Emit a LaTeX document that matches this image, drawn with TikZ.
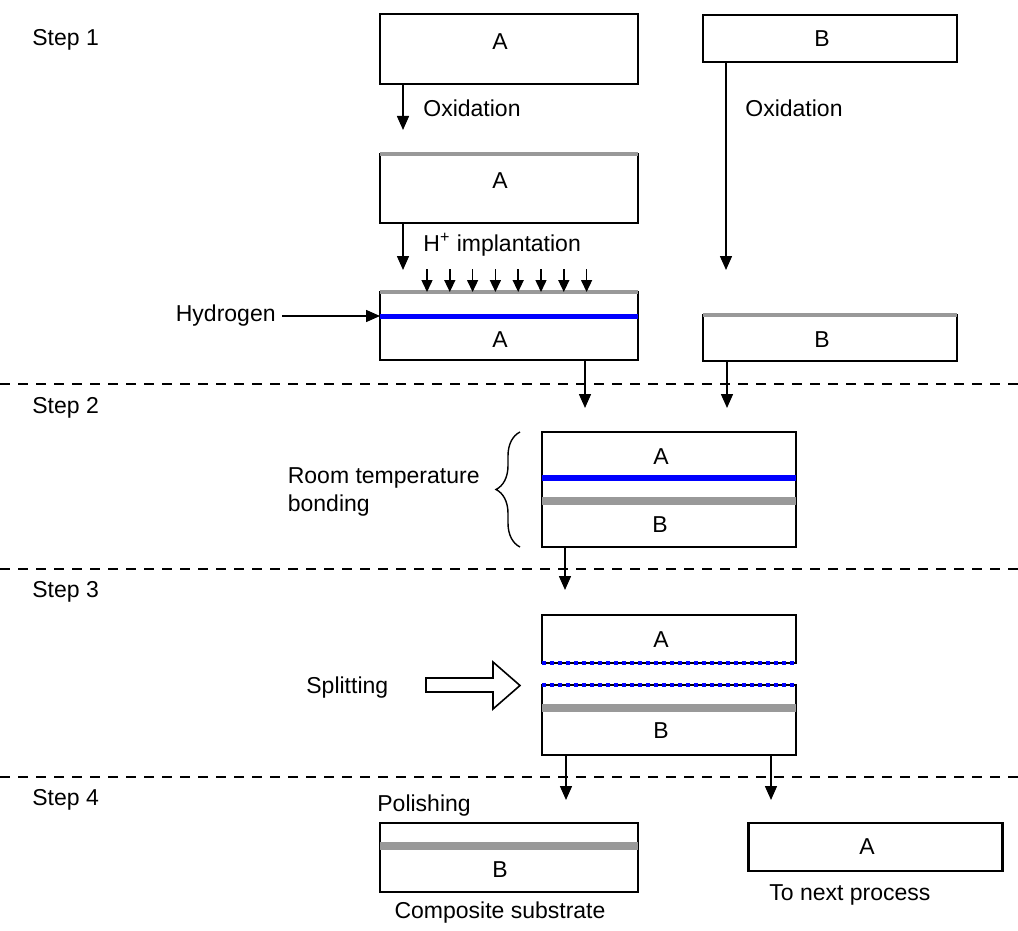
\documentclass[tikz,border=0pt]{standalone}
\usepackage{fontspec}
\setmainfont{Liberation Sans}
\usetikzlibrary{arrows.meta, decorations.pathreplacing}

\definecolor{oxgray}{RGB}{153,153,153}

\begin{document}
\begin{tikzpicture}[
    x=0.5pt, y=-0.5pt,
    font=\fontsize{11.5}{14}\selectfont,
    waferA/.style={rectangle, draw=black, line width=1.3pt, minimum width=129pt, inner sep=0pt, outer sep=0pt},
    waferB/.style={rectangle, draw=black, line width=1.3pt, minimum width=127pt, inner sep=0pt, outer sep=0pt},
    txt/.style={inner sep=0pt},
    lbl/.style={inner sep=0pt, anchor=west},
    arrow/.style={line width=0.75pt, -{Triangle[width=6pt,length=7pt]}},
    implant/.style={line width=0.75pt, -{Triangle[width=5.5pt,length=6pt]}},
    oxide/.style={draw=oxgray, line width=2pt},
    thickoxide/.style={draw=oxgray, line width=4pt},
    hlayer/.style={draw=blue, line width=2.5pt},
    hthick/.style={draw=blue, line width=3pt},
    splitline/.style={draw=blue, line width=1.8pt, dash pattern=on 2pt off 2pt},
    sep/.style={line width=1.3pt, dash pattern=on 5pt off 4pt},
    brace/.style={decorate, decoration={brace, amplitude=12pt}, line width=0.7pt},
    hollow/.style={draw=black, line width=0.8pt, fill=white}
]
\useasboundingbox (0,0) rectangle (1018,931);

% Step 1: oxidation and implantation
\node[lbl] (step1) at (32,40) {Step 1};
\node[waferA, minimum height=35pt] (a1) at (509,49) {};
\node[txt] (a1txt) at (500,42) {A};
\node[waferB, minimum height=23.5pt] (b1) at (830,38.5) {};
\node[txt] (b1txt) at (822,39) {B};

\node[waferA, minimum height=34.5pt] (a2) at (509,188.5) {};
\node[txt] (a2txt) at (500,181) {A};
\draw[oxide] (a2.north west) -- (a2.north east);

\node[waferA, minimum height=34pt] (a3) at (509,326) {};
\node[txt] (a3txt) at (500,340) {A};
\draw[oxide] (a3.north west) -- (a3.north east);
\draw[hlayer] ([yshift=-12pt]a3.north west) -- ([yshift=-12pt]a3.north east);

\node[waferB, minimum height=23pt] (b3) at (830,338) {};
\node[txt] (b3txt) at (822,340) {B};
\draw[oxide] (b3.north west) -- (b3.north east);

\draw[arrow, shorten >=12pt] ([xshift=11.5pt]a1.south west) -- ([xshift=11.5pt]a2.north west);
\node[lbl] (ox1) at (423,108) {Oxidation};
\draw[arrow, shorten >=11pt] ([xshift=11.5pt]a2.south west) -- ([xshift=11.5pt]a3.north west);
\node[lbl] (implant) at (423,245) {H\textsuperscript{+} implantation};
\draw[arrow, shorten >=22.5pt] ([xshift=11.5pt]b1.south west) -- ([xshift=11.5pt]b3.north west);
\node[lbl] (ox2) at (745,108) {Oxidation};

% H+ beam
\foreach \i in {0,...,7}
    \draw[implant] ([xshift=23.5pt+11.4pt*\i, yshift=11.5pt]a3.north west) -- ([xshift=23.5pt+11.4pt*\i]a3.north west);

\node[txt, anchor=east] (hydrogen) at (276,316) {Hydrogen};
\draw[arrow] ([xshift=3pt]hydrogen.east) -- (hydrogen.east -| a3.west);

\draw[sep] (0,384) -- (1018,384);

% Step 2: bonding
\node[lbl] (step2) at (32,408) {Step 2};
\node[waferB, minimum height=57.5pt] (bond) at (669,489.5) {};
\node[txt] (bondA) at (661,457) {A};
\node[txt] (bondB) at (660,525) {B};
\draw[hthick] ([yshift=-23pt]bond.north west) -- ([yshift=-23pt]bond.north east);
\draw[thickoxide] ([yshift=-34.5pt]bond.north west) -- ([yshift=-34.5pt]bond.north east);

\draw[arrow, shorten >=12pt] ([xshift=-26.5pt]a3.south east) -- ([xshift=-26.5pt]a3.south east |- bond.north);
\draw[arrow, shorten >=12pt] ([xshift=12pt]b3.south west) -- ([xshift=12pt]b3.south west |- bond.north);

\draw[brace] ([xshift=-11pt]bond.south west) -- ([xshift=-11pt]bond.north west);
\node[txt, anchor=east, align=left] (rtb) at (480,492) {Room temperature\\bonding};

\draw[sep] (0,569) -- (1018,569);

% Step 3: splitting
\node[lbl] (step3) at (32,592) {Step 3};
\node[waferB, minimum height=24pt] (splitA) at (669,639) {};
\node[txt] (splitAtxt) at (661,640) {A};
\node[waferB, minimum height=35pt] (splitB) at (669,720) {};
\node[txt] (splitBtxt) at (661,731) {B};
\draw[splitline] (splitA.south west) -- (splitA.south east);
\draw[splitline] (splitB.north west) -- (splitB.north east);
\draw[thickoxide] ([yshift=-11.5pt]splitB.north west) -- ([yshift=-11.5pt]splitB.north east);

\draw[arrow, shorten >=12.5pt] ([xshift=11.5pt]bond.south west) -- ([xshift=11.5pt]splitA.north west);

\node[lbl] (splitting) at (306,688) {Splitting};
\draw[hollow] (426,678) -- (493,678) -- (493,662) -- (520,685.5) -- (493,709) -- (493,692) -- (426,692) -- cycle;

\draw[sep] (0,777) -- (1018,777);

% Step 4: polishing
\node[lbl] (step4) at (32,800) {Step 4};
\node[lbl] (polish) at (377,806) {Polishing};
\node[waferA, minimum height=34.5pt] (finalB) at (509,857.5) {};
\node[txt] (finalBtxt) at (500,870) {B};
\draw[thickoxide] ([yshift=-11.5pt]finalB.north west) -- ([yshift=-11.5pt]finalB.north east);
\node[waferB, minimum height=24pt] (finalA) at (875.5,847) {};
\node[txt] (finalAtxt) at (867,847) {A};

\draw[arrow, shorten >=11.5pt] ([xshift=12pt]splitB.south west) -- ([xshift=12pt]splitB.south west |- finalB.north);
\draw[arrow, shorten >=11.5pt] ([xshift=-12.5pt]splitB.south east) -- ([xshift=-12.5pt]splitB.south east |- finalA.north);

\node[txt] (composite) at (500,913) {Composite substrate};
\node[lbl] (nextproc) at (769,895) {To next process};

\end{tikzpicture}
\end{document}
